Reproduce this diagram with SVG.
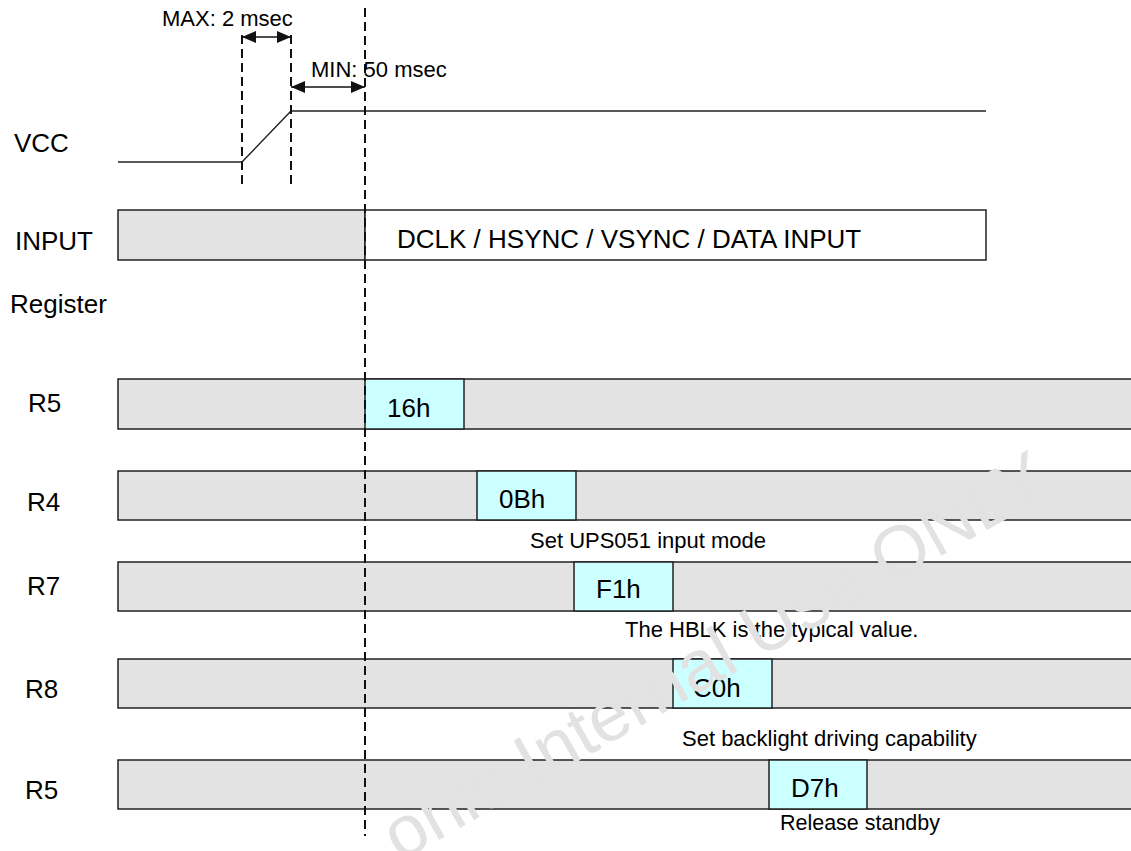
<svg xmlns="http://www.w3.org/2000/svg" width="1131" height="851" viewBox="0 0 1131 851">
<style>
  .lbl { font-family: "Liberation Sans", Arial, sans-serif; font-size: 26px; fill: #000; }
  .sm { font-family: "Liberation Sans", Arial, sans-serif; font-size: 22px; fill: #000; }
  .gray { fill: #e3e3e3; stroke: #222; stroke-width: 1.5; }
  .cyan { fill: #ccffff; stroke: #222; stroke-width: 1.5; }
  .white { fill: #ffffff; stroke: #222; stroke-width: 1.5; }
  .wave { fill: none; stroke: #222; stroke-width: 1.4; }
  .dash { fill: none; stroke: #111; stroke-width: 2; stroke-dasharray: 9 5; }
  .dim { fill: none; stroke: #111; stroke-width: 1.5; }
  .wm { font-family: "Liberation Sans", Arial, sans-serif; font-size: 72px; fill: #e2e2e2; }
</style>
<defs>
  <marker id="ah" viewBox="0 0 14 12" refX="14" refY="6" markerWidth="14" markerHeight="12" markerUnits="userSpaceOnUse" orient="auto-start-reverse">
    <path d="M0,0 L14,6 L0,12 Z" fill="#111"/>
  </marker>
</defs>
<rect width="1131" height="851" fill="#fff"/>

<g id="labels">
  <text class="lbl" x="14" y="152">VCC</text>
  <text class="lbl" x="15" y="250">INPUT</text>
  <text class="lbl" x="10" y="313">Register</text>
  <text class="lbl" x="28" y="412">R5</text>
  <text class="lbl" x="27" y="511">R4</text>
  <text class="lbl" x="27" y="595">R7</text>
  <text class="lbl" x="25" y="698">R8</text>
  <text class="lbl" x="25" y="799">R5</text>
</g>

<g id="vcc">
  <polyline class="wave" points="118,162 242,162 291,111 986,111"/>
</g>

<g id="input">
  <rect class="gray" x="118" y="210" width="247" height="50"/>
  <rect class="white" x="365" y="210" width="621" height="50"/>
  <text class="lbl" x="397" y="248">DCLK / HSYNC / VSYNC / DATA INPUT</text>
</g>

<g id="r5a">
  <rect class="gray" x="118" y="379" width="1020" height="50"/>
  <rect class="cyan" x="365" y="379" width="99" height="50"/>
  <text class="lbl" x="387" y="417">16h</text>
</g>

<g id="r4">
  <rect class="gray" x="118" y="471" width="1020" height="49"/>
  <rect class="cyan" x="477" y="471" width="99" height="49"/>
  <text class="lbl" x="499" y="508">0Bh</text>
  <text class="sm" x="530" y="548">Set UPS051 input mode</text>
</g>

<g id="r7">
  <rect class="gray" x="118" y="562" width="1020" height="49"/>
  <rect class="cyan" x="574" y="562" width="99" height="49"/>
  <text class="lbl" x="596" y="598">F1h</text>
  <text class="sm" x="625" y="637">The HBLK is the typical value.</text>
</g>

<g id="r8">
  <rect class="gray" x="118" y="659" width="1020" height="49"/>
  <rect class="cyan" x="673" y="659" width="99" height="49"/>
  <text class="lbl" x="693" y="697">C0h</text>
  <text class="sm" x="682" y="746">Set backlight driving capability</text>
</g>

<g id="r5b">
  <rect class="gray" x="118" y="760" width="1020" height="49"/>
  <rect class="cyan" x="769" y="760" width="98" height="49"/>
  <text class="lbl" x="791" y="797">D7h</text>
  <text class="sm" x="780" y="830" textLength="160" lengthAdjust="spacingAndGlyphs">Release standby</text>
</g>

<g id="connectors">
  <line class="dash" x1="242" y1="35" x2="242" y2="185"/>
  <line class="dash" x1="291" y1="35" x2="291" y2="185"/>
  <line class="dash" x1="365" y1="8" x2="365" y2="836"/>
  <line class="dim" x1="242" y1="37" x2="291" y2="37" marker-start="url(#ah)" marker-end="url(#ah)"/>
  <line class="dim" x1="291" y1="87" x2="365" y2="87" marker-start="url(#ah)" marker-end="url(#ah)"/>
  <text class="sm" x="162" y="26">MAX: 2 msec</text>
  <text class="sm" x="311" y="77">MIN: 50 msec</text>
</g>

<text class="wm" x="400" y="862" transform="rotate(-29.5 400 862)">onic Internal Use ONLY</text>
</svg>
